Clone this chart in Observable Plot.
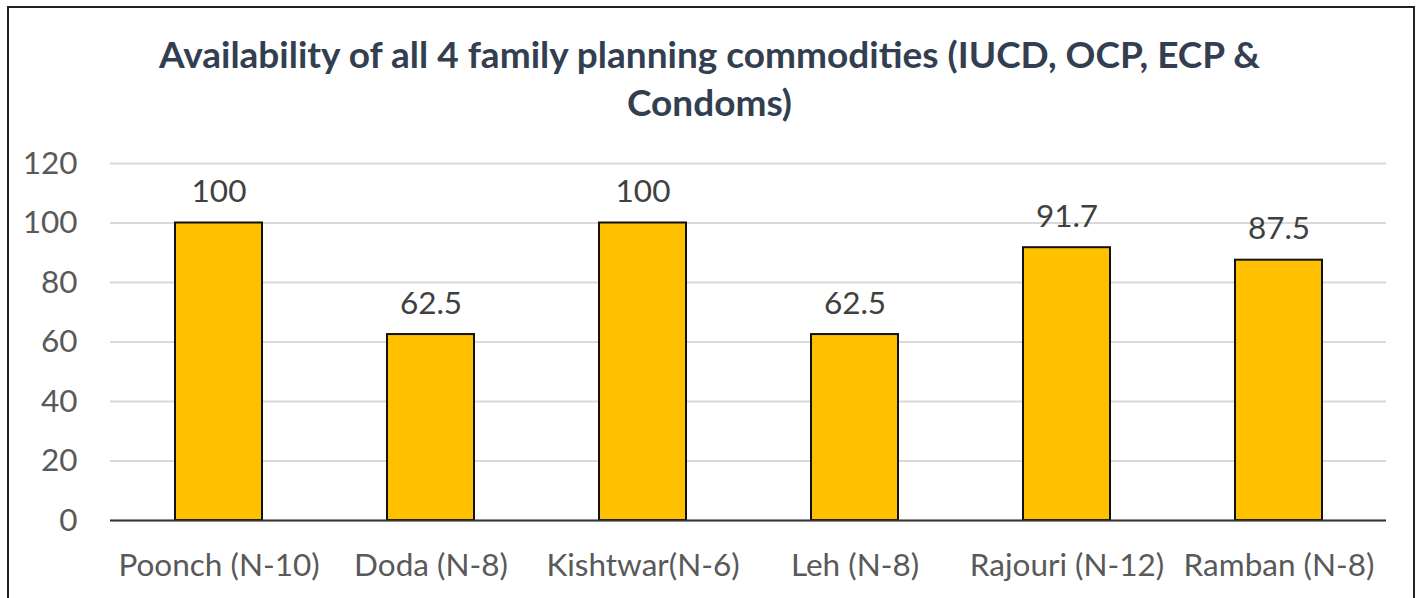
<!DOCTYPE html>
<html>
<head>
<meta charset="utf-8">
<script src="https://cdn.jsdelivr.net/npm/d3@7"></script>
<script src="https://cdn.jsdelivr.net/npm/@observablehq/plot@0.6"></script>
<style>
  html, body { margin: 0; padding: 0; background: #fff; width: 1419px; height: 598px; overflow: hidden; }
  #frame { position: absolute; left: 7px; top: 6px; width: 1408px; height: 620px; border: 2px solid #222; box-sizing: border-box; }
  #title { position: absolute; left: 0; top: 30px; width: 1419px; text-align: center; font-family: Lato, sans-serif; font-weight: bold; font-size: 37px; line-height: 48px; color: #333F50; }
  #chart { position: absolute; left: 0; top: 140px; }
</style>
</head>
<body>
<div id="frame"></div>
<div id="title">Availability of all 4 family planning commodities (IUCD, OCP, ECP &amp;<br>Condoms)</div>
<div id="chart"></div>
<script>
const districts = ["Poonch (N-10)", "Doda (N-8)", "Kishtwar(N-6)", "Leh (N-8)", "Rajouri (N-12)", "Ramban (N-8)"];
const values = [100, 62.5, 100, 62.5, 91.7, 87.5];
const yTicks = [0, 20, 40, 60, 80, 100, 120];

const data = districts.map((d, i) => ({district: d, value: values[i]}));

const plot = Plot.plot({
  width: 1419,
  height: 458,
  marginLeft: 110,
  marginRight: 33,
  marginTop: 23,
  marginBottom: 78,
  style: {fontFamily: "Lato, sans-serif", fontSize: "31.5px", color: "#595959", background: "transparent"},
  x: {domain: districts, paddingInner: 0.59, paddingOuter: 0.295, label: null, tickSize: 0, tickPadding: 33},
  y: {domain: [0, 120], ticks: yTicks, label: null, tickSize: 0, tickPadding: 33},
  marks: [
    Plot.gridY(yTicks, {stroke: "#d9d9d9", strokeOpacity: 1, strokeWidth: 2}),
    Plot.barY(data, {x: "district", y: "value", fill: "#FFC000", stroke: "#111", strokeWidth: 2}),
    Plot.ruleY([0], {stroke: "#333", strokeWidth: 2}),
    Plot.text(data, {x: "district", y: "value", text: d => String(d.value), dy: -31, fill: "#404040", fontSize: 31.5})
  ]
});
document.getElementById("chart").appendChild(plot);
</script>
</body>
</html>
